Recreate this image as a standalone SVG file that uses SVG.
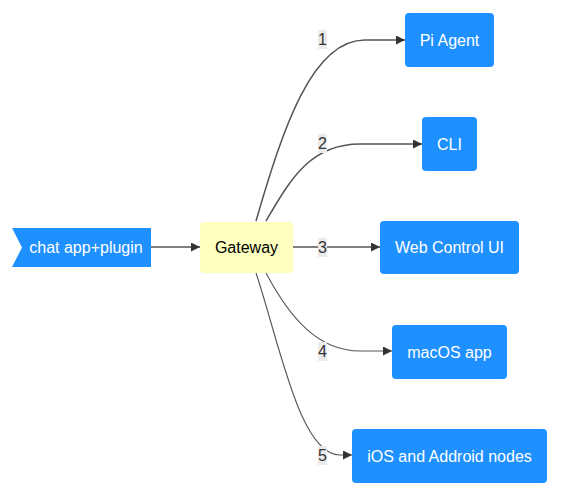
<svg xmlns="http://www.w3.org/2000/svg" width="563" height="488" viewBox="0 0 563 488">
<style>
.n{fill:#1e90ff}
.t{font-family:"Liberation Sans",Arial,sans-serif;font-size:16px;fill:#fff;text-anchor:middle;dominant-baseline:central}
.e{fill:none;stroke:#555;stroke-width:1.5}
.lb{fill:#ebebeb}
.lt{font-family:"Liberation Sans",Arial,sans-serif;font-size:16px;fill:#333;text-anchor:middle;dominant-baseline:central}
</style>
<defs>
<marker id="ah" viewBox="0 0 10 10" refX="10" refY="5" markerWidth="9" markerHeight="9" markerUnits="userSpaceOnUse" orient="auto"><path d="M0,0 L10,5 L0,10 z" fill="#333"/></marker>
</defs>
<g id="connectors">
<path class="e" d="M151,247 L200,247" marker-end="url(#ah)"/>
<path class="e" d="M256,221 C283,128 312,40 365,40 L405,40" marker-end="url(#ah)"/>
<path class="e" d="M266,221 C290,180 310,144 360,144 L422,144" marker-end="url(#ah)"/>
<path class="e" d="M293,247 L380,247" marker-end="url(#ah)"/>
<path class="e" style="stroke-width:1.1" d="M266,273 C290,318 318,351 360,351 L392,351" marker-end="url(#ah)"/>
<path class="e" style="stroke-width:1.1" d="M256,273 C280,345 300,455 340,455 L352,455" marker-end="url(#ah)"/>
</g>
<g id="edge-labels">
<rect class="lb" x="318" y="30" width="9" height="19"/><text class="lt" x="322.5" y="39.5">1</text>
<rect class="lb" x="318" y="134" width="9" height="19"/><text class="lt" x="322.5" y="143.5">2</text>
<rect class="lb" x="318" y="238" width="9" height="19"/><text class="lt" x="322.5" y="247.5">3</text>
<rect class="lb" x="318" y="342" width="9" height="19"/><text class="lt" x="322.5" y="351.5">4</text>
<rect class="lb" x="318" y="446" width="9" height="19"/><text class="lt" x="322.5" y="455.5">5</text>
</g>
<g id="chat">
<polygon class="n" points="12,228 151,228 151,267 12,267 22,247.5"/>
<text class="t" x="86" y="247.5">chat app+plugin</text>
</g>
<g id="gateway">
<rect x="200" y="222" width="93" height="51" rx="4" fill="#ffffc0"/>
<text class="t" style="fill:#000" x="246.5" y="247.5">Gateway</text>
</g>
<g id="pi">
<rect class="n" x="405" y="13" width="89" height="54" rx="4"/>
<text class="t" x="449.5" y="40">Pi Agent</text>
</g>
<g id="cli">
<rect class="n" x="422" y="117" width="55" height="54" rx="4"/>
<text class="t" x="449.5" y="144">CLI</text>
</g>
<g id="web">
<rect class="n" x="380" y="221" width="139" height="53" rx="4"/>
<text class="t" x="449.5" y="247.5">Web Control UI</text>
</g>
<g id="macos">
<rect class="n" x="392" y="325" width="115" height="54" rx="4"/>
<text class="t" x="449.5" y="352">macOS app</text>
</g>
<g id="ios">
<rect class="n" x="352" y="429" width="195" height="54" rx="4"/>
<text class="t" x="449.5" y="456">iOS and Addroid nodes</text>
</g>
</svg>
